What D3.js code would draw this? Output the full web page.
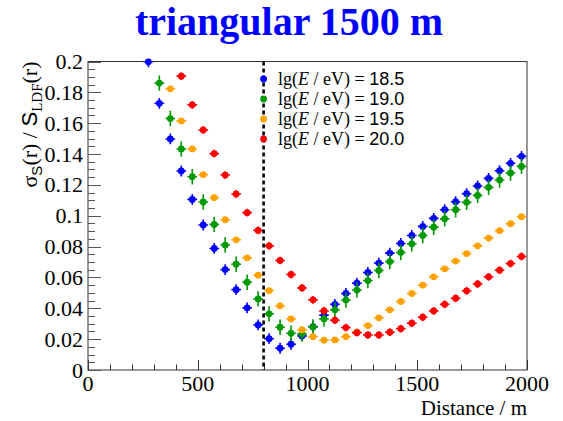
<!DOCTYPE html>
<html>
<head>
<meta charset="utf-8">
<script src="https://cdn.jsdelivr.net/npm/d3@7"></script>
<style>
  html, body { margin: 0; padding: 0; background: #fff; }
  svg { display: block; }
</style>
</head>
<body>
<svg id="chart" width="563" height="421"></svg>
<script>
// Bin centres (m)
const distance = [275, 325, 375, 425, 475, 525, 575, 625, 675, 725, 775, 825, 875, 925, 975,
  1025, 1075, 1125, 1175, 1225, 1275, 1325, 1375, 1425, 1475, 1525, 1575, 1625, 1675, 1725,
  1775, 1825, 1875, 1925, 1975];

// Relative signal uncertainty per energy
const e185 = [0.1998, 0.1729, 0.1498, 0.129, 0.1106, 0.094, 0.0788, 0.0651, 0.0521, 0.0403,
  0.0292, 0.0203, 0.0141, 0.0167, 0.0221, 0.0281, 0.0355, 0.0426, 0.0496, 0.0563, 0.0632,
  0.0693, 0.0758, 0.082, 0.0872, 0.0931, 0.0983, 0.1039, 0.1091, 0.1143, 0.1193, 0.1242,
  0.1292, 0.134, 0.1385];
const e190 = [null, 0.186, 0.163, 0.1433, 0.1253, 0.1089, 0.0944, 0.081, 0.0686, 0.0569,
  0.0461, 0.0364, 0.0277, 0.0238, 0.0234, 0.0279, 0.0331, 0.039, 0.0453, 0.0518, 0.058,
  0.0645, 0.0703, 0.0762, 0.0818, 0.0872, 0.0926, 0.098, 0.1039, 0.1087, 0.1132, 0.1184,
  0.1232, 0.1277, 0.132];
const e195 = [null, null, 0.1823, 0.1615, 0.1433, 0.1266, 0.1117, 0.0974, 0.0844, 0.0727,
  0.0615, 0.0515, 0.0416, 0.0331, 0.026, 0.0216, 0.0193, 0.0195, 0.0216, 0.0245, 0.0288,
  0.0338, 0.039, 0.0444, 0.0496, 0.055, 0.0604, 0.0656, 0.0706, 0.0755, 0.0805, 0.0855,
  0.0903, 0.0948, 0.0994];
const e200 = [null, null, null, 0.1905, 0.1719, 0.1556, 0.1403, 0.1264, 0.1141, 0.102,
  0.0905, 0.0805, 0.071, 0.0619, 0.0532, 0.0455, 0.0383, 0.0323, 0.0275, 0.0242, 0.0227,
  0.0227, 0.0245, 0.0268, 0.0303, 0.0342, 0.0383, 0.0426, 0.0465, 0.0513, 0.0558, 0.0604,
  0.0647, 0.069, 0.0736];

// Vertical error half-widths per energy
const errors = [0.0035, 0.005, 0.0008, 0.0025];
const binHalfWidth = 22;

const energyLabels = ["18.5", "19.0", "19.5", "20.0"];
const colors = ["#0000ff", "#009a00", "#ffa200", "#ff0000"];
const seriesValues = [e185, e190, e195, e200];

const xTicks = [0, 500, 1000, 1500, 2000];
const yTicks = [0, 0.02, 0.04, 0.06, 0.08, 0.1, 0.12, 0.14, 0.16, 0.18, 0.2];
const cutDistance = 800;

const plotLeft = 88, plotRight = 527, plotTop = 61.5, plotBottom = 370;
const svg = d3.select("#chart");
const serif = "'Liberation Serif', 'Times New Roman', serif";
const sans = "'Liberation Sans', Arial, sans-serif";

const x = d3.scaleLinear().domain([0, 2000]).range([plotLeft, plotRight]);
const y = d3.scaleLinear().domain([0, 0.2]).range([plotBottom, plotTop]);

// Title
svg.append("text")
  .attr("x", 289).attr("y", 35)
  .attr("text-anchor", "middle")
  .attr("font-family", serif).attr("font-weight", "bold")
  .attr("font-size", 40).attr("fill", "#0000ff")
  .text("triangular 1500 m");

// Frame
svg.append("rect")
  .attr("x", plotLeft).attr("y", plotTop)
  .attr("width", plotRight - plotLeft).attr("height", plotBottom - plotTop)
  .attr("fill", "none").attr("stroke", "#333").attr("stroke-width", 1);

// X axis ticks (inside the frame)
const xMinor = d3.range(0, 2001, 100);
svg.append("g").selectAll("line").data(xMinor).join("line")
  .attr("x1", d => Math.round(x(d)) + 0.5).attr("x2", d => Math.round(x(d)) + 0.5)
  .attr("y1", plotBottom)
  .attr("y2", d => plotBottom - (d % 500 === 0 ? 10 : 5.5))
  .attr("stroke", "#333").attr("stroke-width", 1);

svg.append("g").selectAll("text").data(xTicks).join("text")
  .attr("x", d => x(d)).attr("y", 391)
  .attr("text-anchor", "middle")
  .attr("font-family", serif).attr("font-size", 22).attr("fill", "#000")
  .text(d => d);

// Y axis ticks
const yMinor = d3.range(0, 41).map(i => i * 0.005);
svg.append("g").selectAll("line").data(yMinor).join("line")
  .attr("x1", plotLeft)
  .attr("x2", (d, i) => plotLeft + (i % 4 === 0 ? 13 : 7))
  .attr("y1", d => Math.round(y(d)) + 0.5).attr("y2", d => Math.round(y(d)) + 0.5)
  .attr("stroke", "#555").attr("stroke-width", 1);

svg.append("g").selectAll("text").data(yTicks).join("text")
  .attr("x", 83).attr("y", d => y(d) + 7.5)
  .attr("text-anchor", "end")
  .attr("font-family", serif).attr("font-size", 22).attr("fill", "#000")
  .text(d => String(+d.toFixed(2)));

// Axis titles
svg.append("text")
  .attr("x", plotRight).attr("y", 415)
  .attr("text-anchor", "end")
  .attr("font-family", serif).attr("font-size", 21).attr("fill", "#000")
  .text("Distance / m");

const yTitle = svg.append("text")
  .attr("transform", `translate(37, ${plotTop}) rotate(-90)`)
  .attr("text-anchor", "end")
  .attr("font-family", serif).attr("font-size", 22).attr("fill", "#000");
yTitle.append("tspan").text("σ");
yTitle.append("tspan").attr("font-family", sans).attr("font-size", 15).attr("dy", 5).text("S");
yTitle.append("tspan").attr("dy", -5).text("(r) / ");
yTitle.append("tspan").attr("font-family", sans).text("S");
yTitle.append("tspan").attr("font-size", 15).attr("dy", 5).text("LDF");
yTitle.append("tspan").attr("dy", -5).text("(r)");

// Clip for error bars
svg.append("clipPath").attr("id", "plotClip")
  .append("rect").attr("x", plotLeft).attr("y", plotTop)
  .attr("width", plotRight - plotLeft).attr("height", plotBottom - plotTop);

// Data series
seriesValues.forEach((vals, s) => {
  const pts = distance.map((d, i) => ({ d, v: vals[i] })).filter(p => p.v !== null);
  const g = svg.append("g");
  const bars = g.append("g").attr("clip-path", "url(#plotClip)")
    .attr("stroke", colors[s]).attr("stroke-width", 1.6);
  bars.selectAll("line.h").data(pts).join("line").attr("class", "h")
    .attr("x1", p => x(p.d - binHalfWidth)).attr("x2", p => x(p.d + binHalfWidth))
    .attr("y1", p => y(p.v)).attr("y2", p => y(p.v));
  bars.selectAll("line.v").data(pts).join("line").attr("class", "v")
    .attr("x1", p => x(p.d)).attr("x2", p => x(p.d))
    .attr("y1", p => y(p.v - errors[s])).attr("y2", p => y(p.v + errors[s]));
  g.selectAll("circle").data(pts).join("circle")
    .attr("cx", p => x(p.d)).attr("cy", p => y(p.v))
    .attr("r", 3.4).attr("fill", colors[s]);
});

// Vertical cut line
svg.append("line")
  .attr("x1", x(cutDistance)).attr("x2", x(cutDistance))
  .attr("y1", plotTop).attr("y2", plotBottom)
  .attr("stroke", "#000").attr("stroke-width", 2.6)
  .attr("stroke-dasharray", "4,3");

// Legend
const legend = svg.append("g");
energyLabels.forEach((lab, i) => {
  const ly = 79 + i * 20;
  legend.append("circle")
    .attr("cx", x(cutDistance)).attr("cy", ly).attr("r", 3.4).attr("fill", colors[i]);
  const t = legend.append("text")
    .attr("x", 278).attr("y", ly + 6)
    .attr("font-family", serif).attr("font-size", 18).attr("fill", "#000");
  t.append("tspan").text("lg(");
  t.append("tspan").attr("font-style", "italic").text("E");
  t.append("tspan").text(" / eV) = ");
  t.append("tspan").attr("font-family", sans).text(lab);
});
</script>
</body>
</html>
